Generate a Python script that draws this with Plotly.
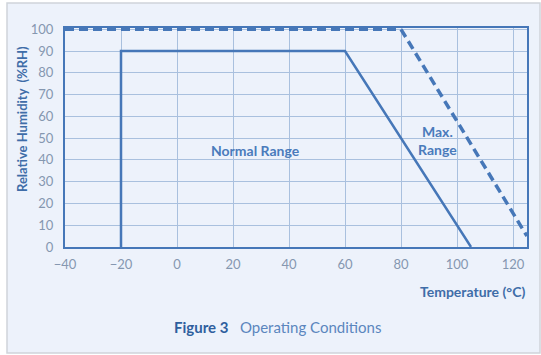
import plotly.graph_objects as go

# Operating envelope: temperature (°C) vs relative humidity (%RH)
normal_temp = [-20, -20, 60, 105]
normal_rh = [0, 90, 90, 0]

max_temp = [-40, 80, 125]
max_rh = [100, 100, 5]

x_ticks = [-40, -20, 0, 20, 40, 60, 80, 100, 120]
y_ticks = [0, 10, 20, 30, 40, 50, 60, 70, 80, 90, 100]

LINE = "#4677b8"
GRID = "#a9c0de"
TICK = "#8597b0"
TITLE = "#3f6da8"
FONT = "Lato"

PW, PH = 462, 219  # plot area size in pixels

fig = go.Figure()

fig.add_trace(go.Scatter(
    x=max_temp, y=max_rh, mode="lines",
    line=dict(color=LINE, width=3.5, dash="9px,5px"),
    hoverinfo="skip", showlegend=False,
))
fig.add_trace(go.Scatter(
    x=normal_temp, y=normal_rh, mode="lines",
    line=dict(color=LINE, width=2.5),
    hoverinfo="skip", showlegend=False,
))

fig.update_layout(
    width=541, height=355,
    margin=dict(l=65, r=14, t=28, b=108),
    paper_bgcolor="#ffffff",
    plot_bgcolor="#dfe9f6",
    font=dict(family=FONT, size=13, color=TICK),
    xaxis=dict(
        range=[-40, 125], tickvals=x_ticks, ticks="",
        showgrid=True, gridcolor=GRID, gridwidth=1, zeroline=False,
        showline=True, linecolor=LINE, linewidth=2, mirror=True,
        ticklabelstandoff=4, tickfont=dict(family=FONT, size=13, color=TICK),
    ),
    yaxis=dict(
        range=[0, 100.6], tickvals=y_ticks, ticks="",
        showgrid=True, gridcolor=GRID, gridwidth=1, zeroline=False,
        showline=True, linecolor=LINE, linewidth=2, mirror=True,
        ticklabelstandoff=7, tickfont=dict(family=FONT, size=13, color=TICK),
    ),
    shapes=[
        # light card behind the whole chart
        dict(type="rect", xref="paper", yref="paper", layer="below",
             x0=-58 / PW, x1=1 + 13 / PW, y0=-106 / PH, y1=1 + 25 / PH,
             fillcolor="#edf2fb", line=dict(color="#cfd4da", width=1.5)),
    ],
    annotations=[
        dict(x=28, y=44.5, xref="x", yref="y", text="<b>Normal Range</b>",
             showarrow=False, font=dict(family=FONT, size=14, color="#4a7bbb")),
        dict(x=93.2, y=49, xref="x", yref="y", text="<b>Max.<br>Range</b>",
             showarrow=False, font=dict(family=FONT, size=14, color="#4a7bbb")),
        dict(x=1, y=-44 / PH, xref="paper", yref="paper", xanchor="right",
             yanchor="middle", text="<b>Temperature (°C)</b>", showarrow=False,
             font=dict(family=FONT, size=14, color=TITLE)),
        dict(x=-43 / PW, y=(247 - 119) / PH, xref="paper", yref="paper", textangle=-90,
             xanchor="center", yanchor="middle",
             text="<b>Relative Humidity  (%RH)</b>", showarrow=False,
             font=dict(family=FONT, size=13, color=TITLE)),
        dict(x=(277 - 65) / PW, y=-(327 - 247) / PH, xref="paper", yref="paper",
             xanchor="center", yanchor="middle",
             text="<b>Figure 3</b>   <span style='color:#5b86be'>Operating Conditions</span>",
             showarrow=False, font=dict(family=FONT, size=15, color="#2f5f9e")),
    ],
)

fig.write_html("out.html")
